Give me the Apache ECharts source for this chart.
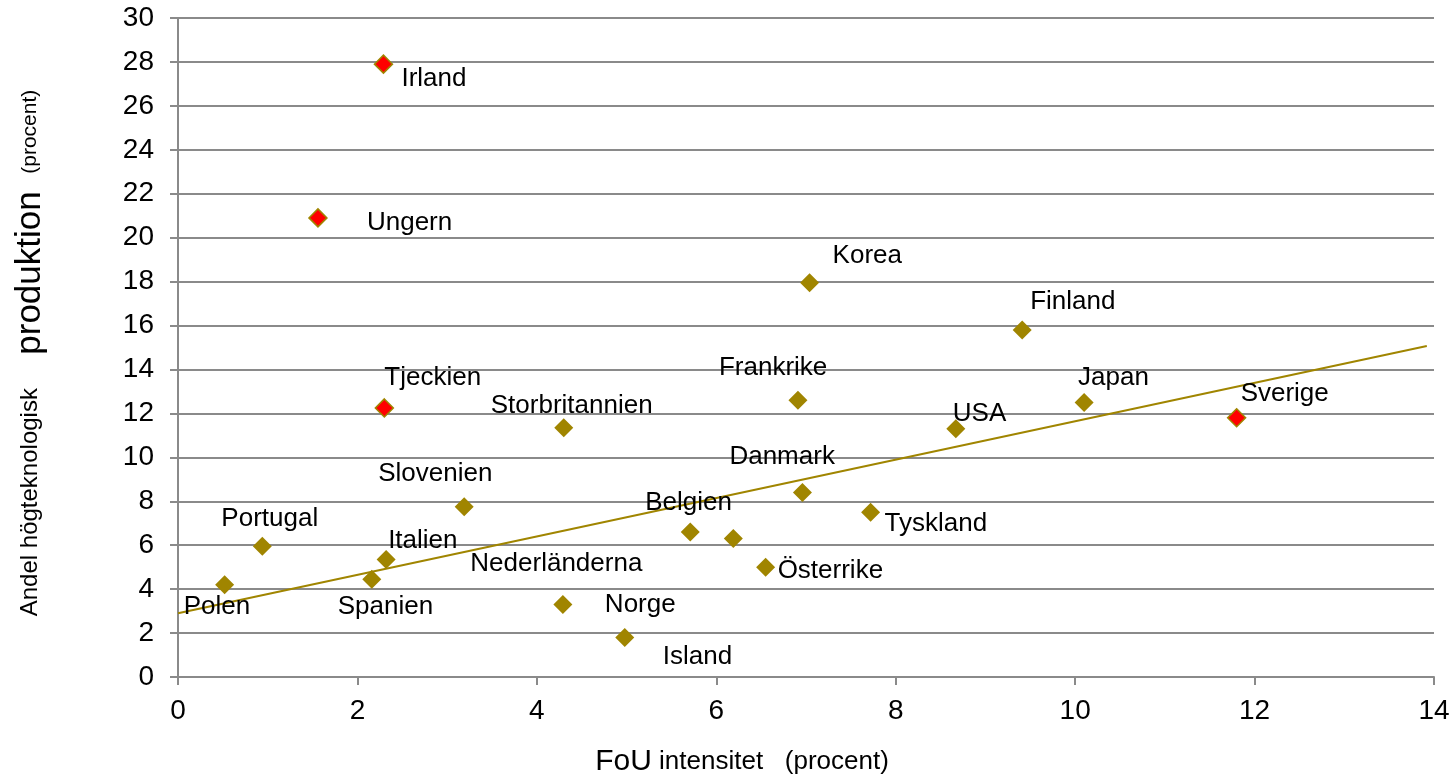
<!DOCTYPE html>
<html>
<head>
<meta charset="utf-8">
<script src="https://cdn.jsdelivr.net/npm/echarts@6/dist/echarts.min.js"></script>
<style>html,body{margin:0;padding:0;background:#fff}#c{width:1455px;height:778px}</style>
</head>
<body>
<div id="c"></div>
<script>
const countries = ['Irland','Ungern','Tjeckien','Sverige','Korea','Finland','Frankrike','Japan','USA','Storbritannien','Danmark','Slovenien','Tyskland','Belgien','Nederländerna','Österrike','Norge','Island','Portugal','Polen','Italien','Spanien'];
const fouIntensitet = [2.29, 1.56, 2.30, 11.80, 7.04, 9.41, 6.91, 10.10, 8.67, 4.30, 6.96, 3.19, 7.72, 5.71, 6.19, 6.55, 4.29, 4.98, 0.94, 0.52, 2.32, 2.16];
const hogteknologiskAndel = [27.9, 20.9, 12.25, 11.8, 17.95, 15.8, 12.6, 12.5, 11.3, 11.35, 8.4, 7.75, 7.5, 6.6, 6.3, 5.0, 3.3, 1.8, 5.95, 4.2, 5.35, 4.45];
const highlighted = ['Irland','Ungern','Tjeckien','Sverige'];
const trendX = [0, 13.92];
const trendY = [2.9, 15.07];
const xTicks = [0, 14, 2];
const yTicks = [0, 30, 2];

// label placement (style)
const labelOffsets = {
  'Irland':[18,15],'Ungern':[49,5],'Tjeckien':[0,-30],'Sverige':[4,-24],'Korea':[23,-27],
  'Finland':[8,-28],'Frankrike':[-79,-32],'Japan':[-6,-25],'USA':[-3,-15],'Storbritannien':[-73,-22],
  'Danmark':[-73,-36],'Slovenien':[-86,-33],'Tyskland':[14,12],'Belgien':[-45,-29],'Nederländerna':[-263,25],
  'Österrike':[12,4],'Norge':[42,0],'Island':[38,19],'Portugal':[-41,-27],'Polen':[-41,22],
  'Italien':[2,-19],'Spanien':[-34,28]
};
const OLIVE = '#A08500';
const GRID = '#8a8a8a';
const FONT = '"Liberation Sans", Arial, sans-serif';

const points = countries.map((n, i) => {
  const red = highlighted.includes(n);
  return {
    name: n,
    value: [fouIntensitet[i], hogteknologiskAndel[i]],
    itemStyle: red ? {color: '#FF0000', borderColor: OLIVE, borderWidth: 1.5, opacity: 1} : {color: OLIVE, opacity: 1},
    symbolSize: red ? 18 : 19,
    label: {
      show: true, formatter: n, position: 'inside', align: 'left', verticalAlign: 'middle',
      offset: labelOffsets[n], color: '#000', fontSize: 26, fontFamily: FONT,
      textBorderWidth: 0, opacity: 1
    }
  };
});

const chart = echarts.init(document.getElementById('c'), null, {renderer: 'canvas'});
chart.setOption({
  animation: false,
  backgroundColor: '#fff',
  grid: {left: 178, right: 21, top: 18, bottom: 101, containLabel: false},
  xAxis: {
    type: 'value', min: xTicks[0], max: xTicks[1], interval: xTicks[2],
    axisLine: {show: true, lineStyle: {color: GRID, width: 2}},
    axisTick: {show: true, length: 8, lineStyle: {color: GRID, width: 2}},
    axisLabel: {color: '#000', fontSize: 28, fontFamily: FONT, margin: 20},
    splitLine: {show: false}
  },
  yAxis: {
    type: 'value', min: yTicks[0], max: yTicks[1], interval: yTicks[2],
    axisLine: {show: true, lineStyle: {color: GRID, width: 2}},
    axisTick: {show: true, length: 8, lineStyle: {color: GRID, width: 2}},
    axisLabel: {color: '#000', fontSize: 28, fontFamily: FONT, margin: 24},
    splitLine: {show: true, lineStyle: {color: GRID, width: 2}}
  },
  graphic: [
    {
      type: 'text', x: 742, y: 762,
      style: {
        text: '{a|FoU}{b| intensitet   (procent)}', align: 'center', verticalAlign: 'middle',
        rich: {a: {fontSize: 30, fontFamily: FONT, fill: '#000'}, b: {fontSize: 26, fontFamily: FONT, fill: '#000'}}
      }
    },
    {
      type: 'text', x: 30, y: 353, rotation: Math.PI / 2,
      style: {
        text: '{b|Andel högteknologisk     }{a|produktion}{c|   (procent)}', align: 'center', verticalAlign: 'middle',
        rich: {
          a: {fontSize: 35, fontFamily: FONT, fill: '#000'},
          b: {fontSize: 24, fontFamily: FONT, fill: '#000'},
          c: {fontSize: 21, fontFamily: FONT, fill: '#000'}
        }
      }
    }
  ],
  series: [
    {
      type: 'line', data: trendX.map((x, i) => [x, trendY[i]]), symbol: 'none',
      lineStyle: {color: OLIVE, width: 2}, z: 2, silent: true
    },
    {
      type: 'scatter', symbol: 'diamond', data: points, z: 3
    }
  ]
});
</script>
</body>
</html>
